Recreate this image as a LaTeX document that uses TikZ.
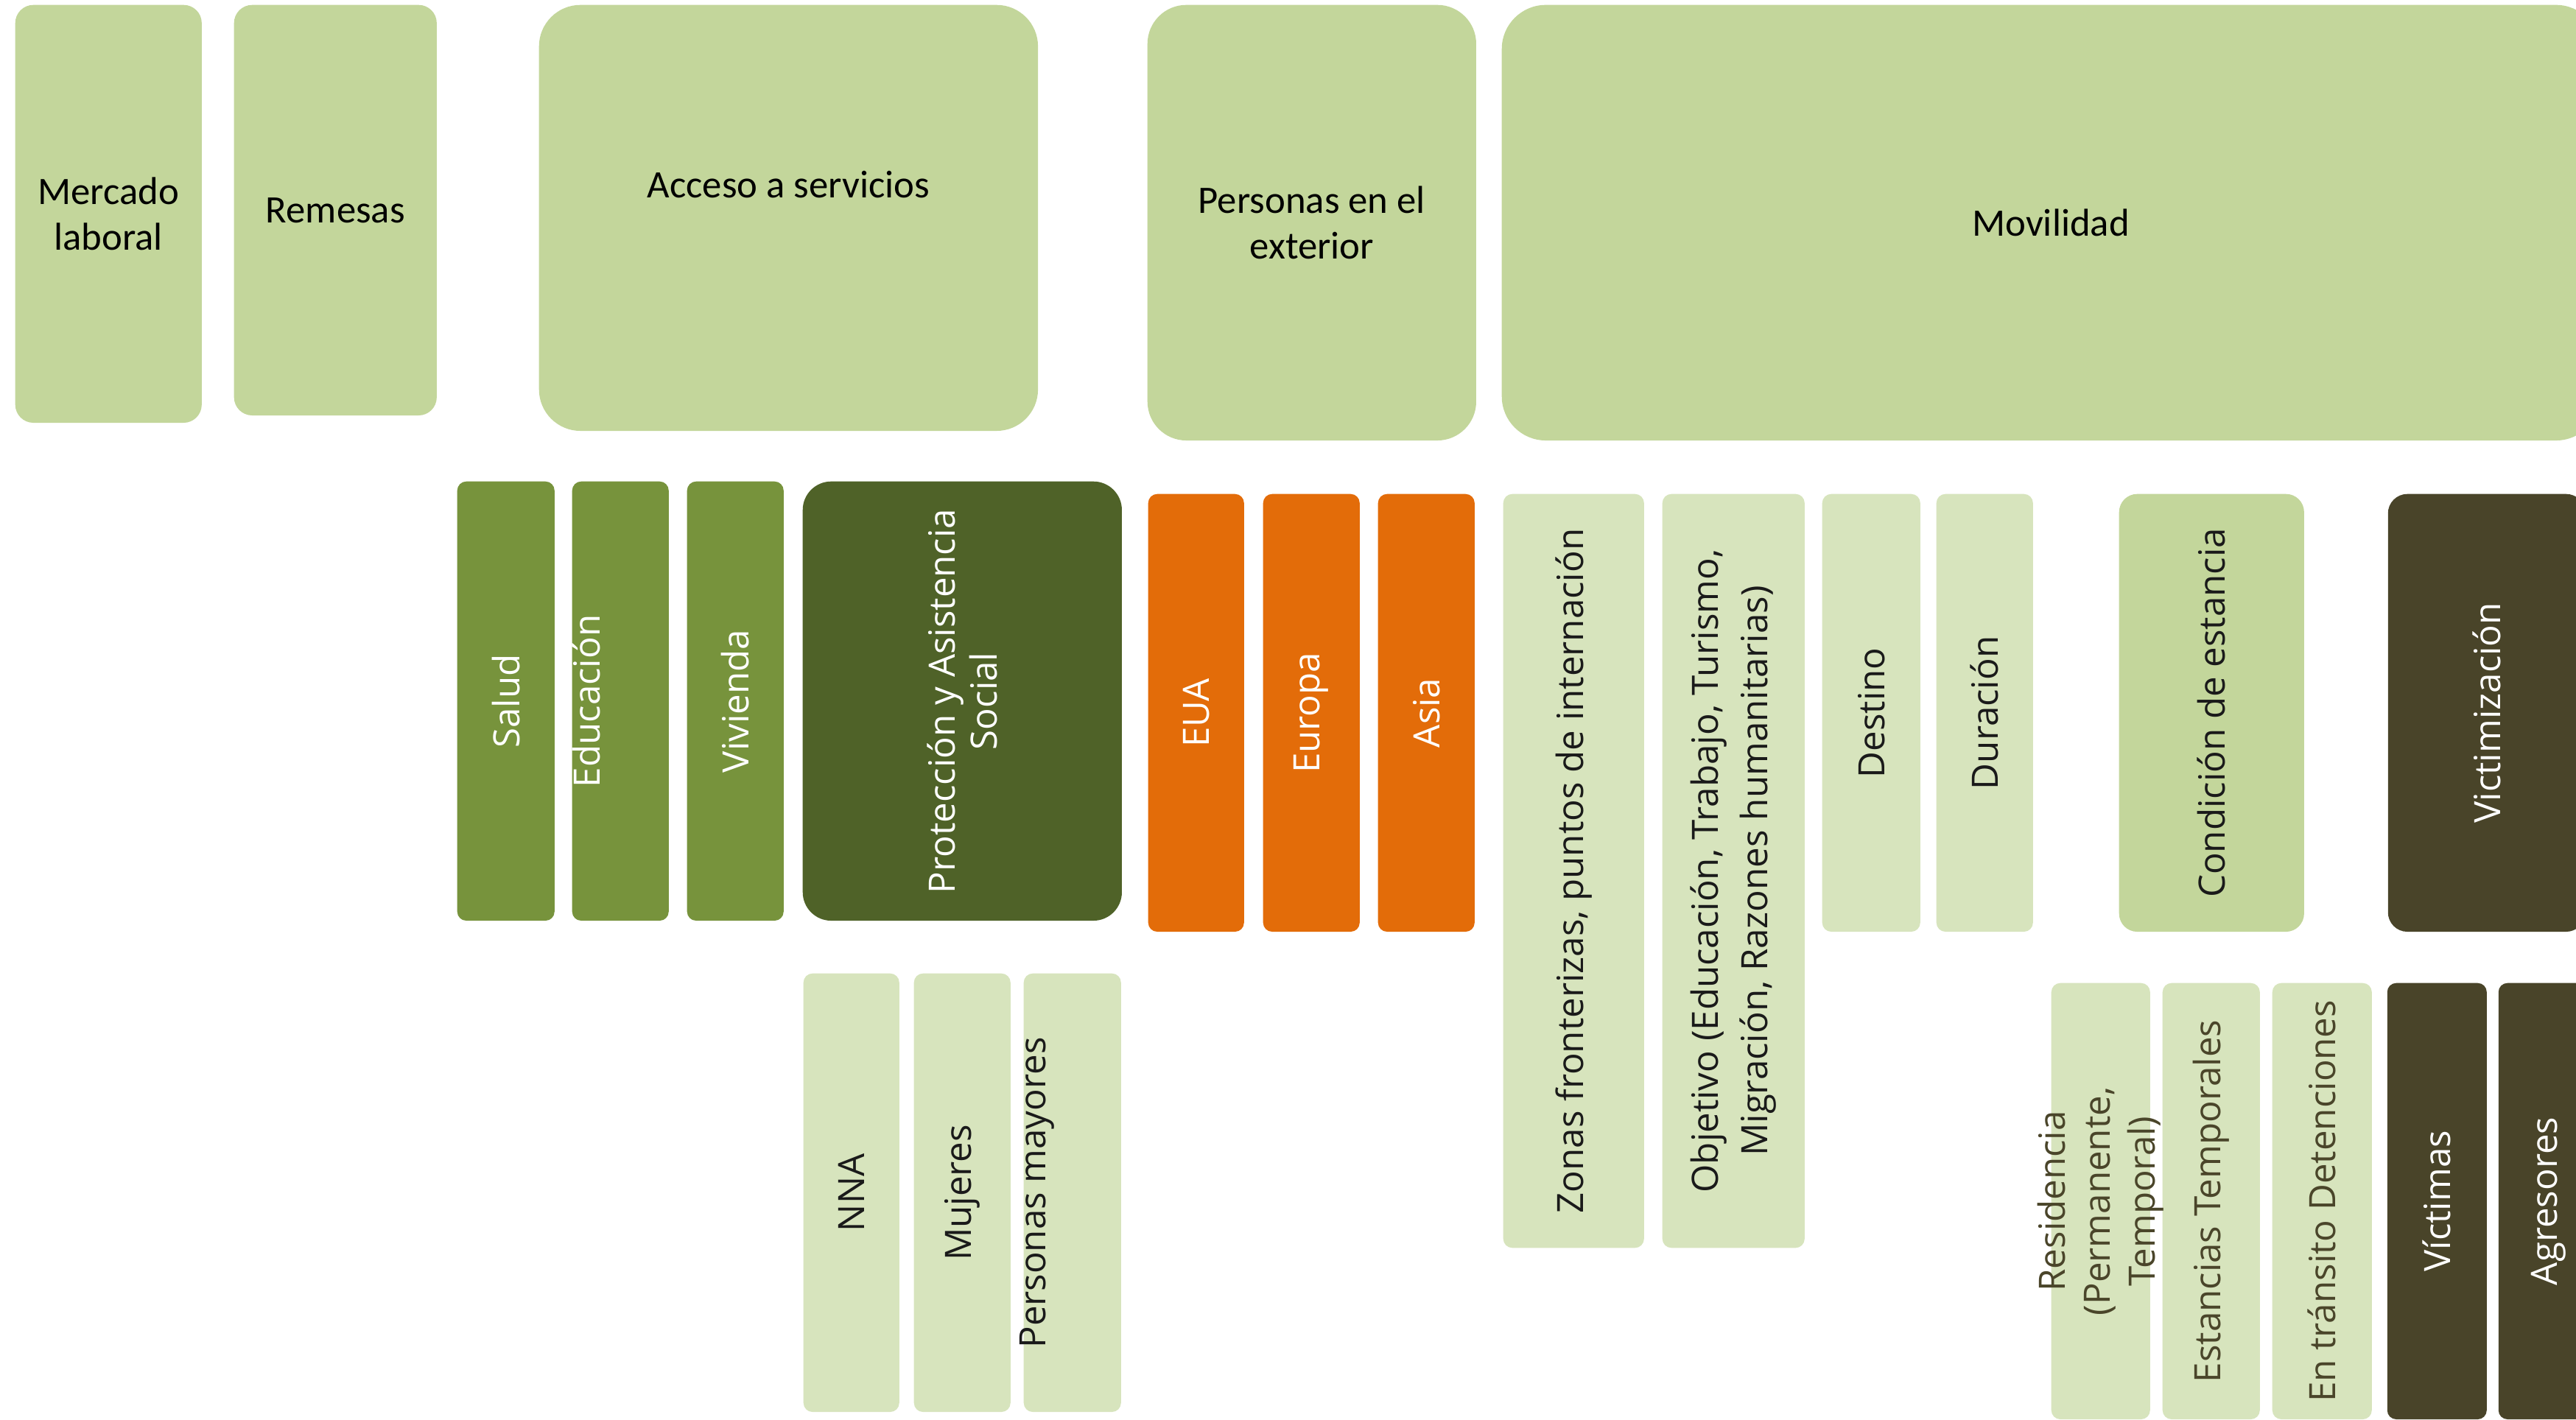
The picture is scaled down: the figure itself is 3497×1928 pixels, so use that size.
\documentclass[tikz,border=0pt]{standalone}
\usepackage{fontspec}
\setmainfont{Carlito}
\newfontfamily\opensans{Open Sans}
\usepackage{tikz}

\definecolor{verdeclaro}{HTML}{C3D69B}
\definecolor{verdepalido}{HTML}{D7E4BD}
\definecolor{verdemedio}{HTML}{77933C}
\definecolor{olivo}{HTML}{4F6228}
\definecolor{naranja}{HTML}{E36C09}
\definecolor{cafe}{HTML}{494429}
\definecolor{tinta}{HTML}{1A1A1A}
\definecolor{tintacafe}{HTML}{4A452A}

\tikzset{
  tile/.style={anchor=north west, inner sep=0pt, rounded corners=3.5pt},
  top/.style={tile, fill=verdeclaro, align=center, text=black,
    rounded corners=7pt, font=\fontsize{15}{17.4}\selectfont},
  vlabel/.style={rotate=90, align=center, inner sep=0pt,
    font=\opensans\fontsize{14}{17}\selectfont},
}

\begin{document}
\begin{tikzpicture}[x=0.01cm,y=-0.01cm]
\useasboundingbox (0,0) rectangle (3497,1928);

% primer nivel
\node[top, minimum width=2.53cm, minimum height=5.67cm] (mercado) at (20,6) {Mercado\\laboral};
\node[top, minimum width=2.75cm, minimum height=5.57cm] (remesas) at (317,6) {Remesas};
\node[top, minimum width=6.77cm, minimum height=5.78cm, rounded corners=16pt] (acceso) at (731,6) {};
\node[font=\fontsize{15}{17.4}\selectfont] (acceso-t) at ([yshift=0.45cm]acceso.center) {Acceso a servicios};
\node[top, minimum width=4.46cm, minimum height=5.91cm, rounded corners=15pt] (exterior) at (1557,6) {Personas en el\\exterior};
\node[top, minimum width=14.90cm, minimum height=5.91cm, rounded corners=17pt] (movilidad) at (2038,6) {Movilidad};

% acceso a servicios
\node[tile, fill=verdemedio, minimum width=1.32cm, minimum height=5.96cm] (salud) at (620,653) {};
\node[tile, fill=verdemedio, minimum width=1.31cm, minimum height=5.96cm] (educacion) at (776,653) {};
\node[tile, fill=verdemedio, minimum width=1.31cm, minimum height=5.96cm] (vivienda) at (932,653) {};
\node[tile, fill=olivo, minimum width=4.33cm, minimum height=5.96cm, rounded corners=11pt] (proteccion) at (1089,653) {};
\node[vlabel, white] (salud-t) at (salud.center) {Salud};
\node[vlabel, white] (educacion-t) at ([xshift=-0.46cm]educacion.center) {Educación};
\node[vlabel, white] (vivienda-t) at (vivienda.center) {Vivienda};
\node[vlabel, white, font=\opensans\fontsize{14}{16.2}\selectfont] (proteccion-t) at (proteccion.center) {Protección y Asistencia\\Social};

\node[tile, fill=verdepalido, minimum width=1.30cm, minimum height=5.95cm] (nna) at (1090,1321) {};
\node[tile, fill=verdepalido, minimum width=1.31cm, minimum height=5.95cm] (mujeres) at (1240,1321) {};
\node[tile, fill=verdepalido, minimum width=1.32cm, minimum height=5.95cm] (mayores) at (1389,1321) {};
\node[vlabel, tinta] (nna-t) at (nna.center) {NNA};
\node[vlabel, tinta] (mujeres-t) at (mujeres.center) {Mujeres};
\node[vlabel, tinta] (mayores-t) at ([xshift=-0.48cm]mayores.center) {Personas mayores};

% personas en el exterior
\node[tile, fill=naranja, minimum width=1.30cm, minimum height=5.94cm] (eua) at (1558,670) {};
\node[tile, fill=naranja, minimum width=1.31cm, minimum height=5.94cm] (europa) at (1714,670) {};
\node[tile, fill=naranja, minimum width=1.31cm, minimum height=5.94cm] (asia) at (1870,670) {};
\node[vlabel, white] (eua-t) at (eua.center) {EUA};
\node[vlabel, white] (europa-t) at (europa.center) {Europa};
\node[vlabel, white] (asia-t) at (asia.center) {Asia};

% movilidad
\node[tile, fill=verdepalido, minimum width=1.91cm, minimum height=10.23cm] (zonas) at (2040,670) {};
\node[tile, fill=verdepalido, minimum width=1.93cm, minimum height=10.23cm] (objetivo) at (2256,670) {};
\node[tile, fill=verdepalido, minimum width=1.33cm, minimum height=5.94cm] (destino) at (2473,670) {};
\node[tile, fill=verdepalido, minimum width=1.31cm, minimum height=5.94cm] (duracion) at (2628,670) {};
\node[tile, fill=verdeclaro, minimum width=2.51cm, minimum height=5.94cm, rounded corners=7pt] (condicion) at (2876,670) {};
\node[tile, fill=cafe, minimum width=2.68cm, minimum height=5.94cm, rounded corners=7.5pt] (victimizacion) at (3241,670) {};
\node[vlabel, tinta] (zonas-t) at (zonas.center) {Zonas fronterizas, puntos de internación};
\node[vlabel, tinta, font=\opensans\fontsize{14}{19}\selectfont] (objetivo-t) at (objetivo.center) {Objetivo (Educación, Trabajo, Turismo,\\Migración, Razones humanitarias)};
\node[vlabel, tinta] (destino-t) at (destino.center) {Destino};
\node[vlabel, tinta] (duracion-t) at (duracion.center) {Duración};
\node[vlabel, tinta] (condicion-t) at (condicion.center) {Condición de estancia};
\node[vlabel, white] (victimizacion-t) at (victimizacion.center) {Victimización};

\node[tile, fill=verdepalido, minimum width=1.34cm, minimum height=5.92cm] (residencia) at (2784,1334) {};
\node[tile, fill=verdepalido, minimum width=1.32cm, minimum height=5.92cm] (estancias) at (2935,1334) {};
\node[tile, fill=verdepalido, minimum width=1.35cm, minimum height=5.92cm] (transito) at (3084,1334) {};
\node[tile, fill=cafe, minimum width=1.35cm, minimum height=5.92cm] (victimas) at (3240,1334) {};
\node[tile, fill=cafe, minimum width=1.35cm, minimum height=5.92cm] (agresores) at (3391,1334) {};
\node[vlabel, tintacafe, font=\opensans\fontsize{14}{17.4}\selectfont] (residencia-t) at (residencia.center) {Residencia\\(Permanente,\\Temporal)};
\node[vlabel, tintacafe] (estancias-t) at (estancias.center) {Estancias Temporales};
\node[vlabel, tintacafe] (transito-t) at (transito.center) {En tránsito Detenciones};
\node[vlabel, white] (victimas-t) at (victimas.center) {Víctimas};
\node[vlabel, white] (agresores-t) at (agresores.center) {Agresores};
\end{tikzpicture}
\end{document}
